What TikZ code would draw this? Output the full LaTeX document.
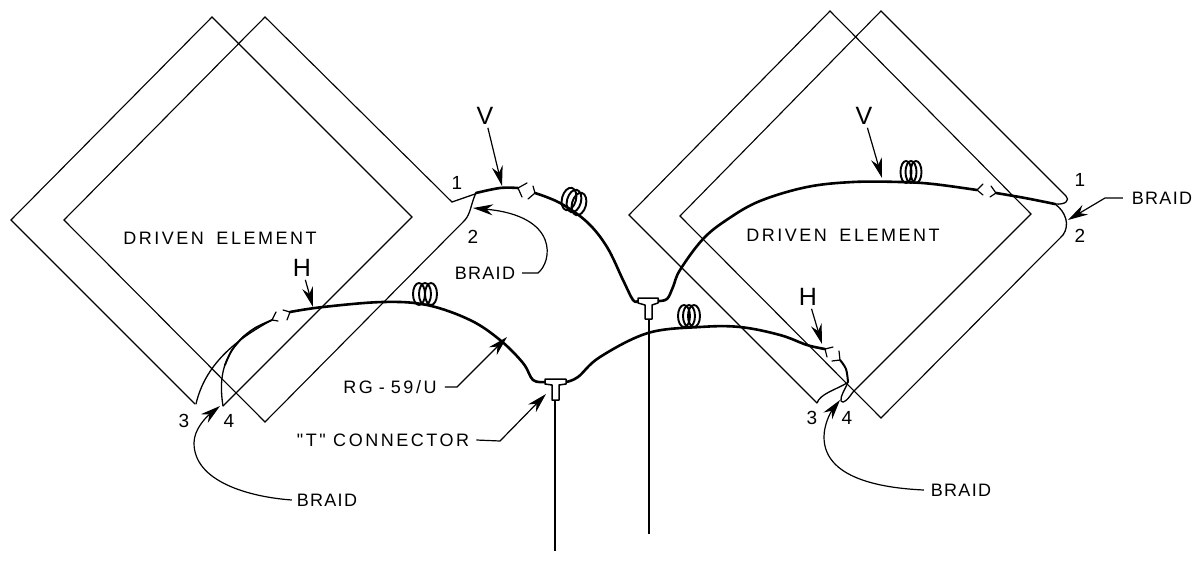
\documentclass[tikz,border=0pt]{standalone}
\usepackage{fontspec}
\setmainfont{Liberation Sans}
\newfontfamily\lblwide[LetterSpace=14]{Liberation Sans}
\newfontfamily\lblmid[LetterSpace=7]{Liberation Sans}
\usetikzlibrary{arrows.meta}
\tikzset{
  frame/.style={draw=black,line width=1.1pt,line join=miter},
  coax/.style={draw=black,line width=2.6pt,line cap=round,line join=round},
  thinwire/.style={draw=black,line width=1.3pt,line cap=round,line join=round},
  yfit/.style={draw=black,line width=1.2pt,line cap=round},
  lead/.style={draw=black,line width=1.2pt,-{Stealth[length=20pt,width=11pt]}},
  coil/.style={draw=black,line width=1.9pt},
  tee/.style={draw=black,line width=1.5pt,fill=white,line join=round},
  feed/.style={draw=black,line width=2.6pt},
  wide/.style={inner sep=1pt,font=\lblwide\fontsize{18}{20}\selectfont},
  mid/.style={inner sep=1pt,font=\lblmid\fontsize{18}{20}\selectfont},
  num/.style={inner sep=1pt,font=\fontsize{19}{21}\selectfont},
  big/.style={inner sep=3pt,font=\fontsize{25}{27}\selectfont}
}
\begin{document}
\begin{tikzpicture}[x=1pt,y=-1pt]
\path[use as bounding box,fill=white] (0,0) rectangle (1195,584);

% left driven element
\draw[frame] (195,404) -- (11,220) -- (212,17) -- (412,217) -- (223,406);
\draw[frame] (465,220) -- (265,422) -- (64,220) -- (265,17) -- (452,202);
% right driven element
\draw[frame] (817,403) -- (629,215) -- (830,11) -- (1031,214) -- (853,392);
\draw[frame] (1063,235) -- (881,418) -- (680,216) -- (881,11) -- (1066,196);

% terminals V left
\draw[thinwire] (452,202) -- (475,194);
\draw[thinwire] (465,220) .. controls (471,213) and (471,203) .. (476,193);
% terminals V right
\draw[thinwire] (1066,196) .. controls (1070,200) and (1066,205) .. (1055,204);
\draw[thinwire] (1055,204) .. controls (1066,212) and (1070,225) .. (1063,235);
% terminals H right
\draw[thinwire] (847,383) .. controls (835,390) and (820,394) .. (817,403);
\draw[thinwire] (853,392) .. controls (849,398) and (843,405) .. (841,401) .. controls (840,396) and (845,390) .. (848,382);
% terminals H left
\draw[thinwire] (196,404) .. controls (205,365) and (235,340) .. (272,320);
\draw[thinwire] (223,406) .. controls (218,375) and (225,355) .. (243,337);

% coax V left
\draw[coax] plot[smooth,tension=0.6] coordinates {(476,193) (500,188) (518,188)};
\draw[yfit] (527,183) -- (518,188) -- (522,197);
\draw[yfit] (533,186) -- (535,193) -- (528,199);
\draw[coax] plot[smooth,tension=0.6] coordinates {(535,193) (560,203) (587,222) (607,247) (623,280) (633,300) (638,301)};
% coax V right
\draw[coax] plot[smooth,tension=0.6] coordinates {(658,301) (667,299) (673,287) (680,270) (703,239) (728,219) (760,201) (807,187) (853,182) (900,182) (933,184) (977,190)};
\draw[yfit] (983,184) -- (977,190) -- (983,195);
\draw[yfit] (991,186) -- (996,193) -- (990,197);
\draw[coax] plot[smooth,tension=0.6] coordinates {(996,193) (1025,198) (1055,204)};
% coax H left
\draw[coax] plot[smooth,tension=0.6] coordinates {(290,312) (323,307) (383,302) (427,305) (470,320) (500,340) (523,363) (533,380) (545,382)};
\draw[yfit] (283,310) -- (290,312) -- (287,320);
\draw[yfit] (276,312) -- (272,320) -- (278,321);
\draw[line width=1.8pt,line cap=round] plot[smooth,tension=0.6] coordinates {(272,320) (255,328) (243,337)};
\draw[line width=1.8pt,line cap=round] plot[smooth,tension=0.6] coordinates {(243,337) (232,350) (225,365)};
% coax H right
\draw[coax] plot[smooth,tension=0.6] coordinates {(566,382) (578,377) (600,357) (648,333) (700,327) (740,327) (780,335) (807,345) (825,349)};
\draw[yfit] (833,347) -- (825,349) -- (827,357);
\draw[yfit] (839,351) -- (840,360) -- (832,361);
\draw[line width=2pt,line cap=round] plot[smooth,tension=0.6] coordinates {(840,360) (846,369) (848,382)};

% tee connectors and feed lines
\draw[feed] (555,401) -- (555,551);
\draw[feed] (649,320) -- (649,534);
\draw[tee] (545,379) -- (566,379) -- (566,384) -- (559,385) -- (559,400) -- (552,400) -- (552,385) -- (545,384) -- cycle;
\draw[tee] (638,298) -- (658,298) -- (658,303) -- (652,305) -- (652,319) -- (645,319) -- (645,305) -- (638,303) -- cycle;

% coils
\foreach \cx/\cy in {569/199,574/201,579/204}
  \draw[coil] (\cx,\cy) ellipse [x radius=7pt,y radius=11.5pt,rotate=-15];
\foreach \cx in {906,911,916}
  \draw[coil] (\cx,172) ellipse [x radius=5.5pt,y radius=11pt];
\foreach \cx in {684,689,694}
  \draw[coil] (\cx,316) ellipse [x radius=6pt,y radius=11pt];
\foreach \cx in {419,425,431}
  \draw[coil] (\cx,294) ellipse [x radius=6pt,y radius=11pt];

% labels
\node[wide] (de1) at (220,238) {DRIVEN\hspace{5pt} ELEMENT};
\node[wide] (de2) at (843,235) {DRIVEN\hspace{5pt} ELEMENT};
\node[big] (v1) at (485,116) {V};
\node[big] (v2) at (864,116) {V};
\node[big] (h1) at (302,268) {H};
\node[big] (h2) at (808,297) {H};
\node[num] (n1a) at (457,183) {1};
\node[num] (n2a) at (473,237) {2};
\node[num] (n1b) at (1080,180) {1};
\node[num] (n2b) at (1080,236) {2};
\node[num] (n3a) at (184,421) {3};
\node[num] (n4a) at (229,421) {4};
\node[num] (n3b) at (812,418) {3};
\node[num] (n4b) at (847,418) {4};
\node[mid] (br1) at (485,273) {BRAID};
\node[mid] (br2) at (327,500) {BRAID};
\node[mid] (br3) at (961,490) {BRAID};
\node[mid] (br4) at (1162,198) {BRAID};
\node[wide] (rg) at (390,387) {RG\hspace{6pt}-\hspace{6pt}59/U};
\node[wide] (tc) at (383,440) {"T" CONNECTOR};

% leader points
\coordinate (tv1) at (502,186);
\coordinate (tv2) at (882,178);
\coordinate (th1) at (313,307);
\coordinate (th2) at (822,344);
\coordinate (tb1) at (473,208);
\coordinate (tb2) at (220,406);
\coordinate (tb3) at (840,400);
\coordinate (tb4) at (1068,220);
\coordinate (trg) at (507,337);
\coordinate (ttc) at (546,394);
\coordinate (kb1) at (538,273);
\coordinate (kb4) at (1105,198);
\coordinate (krg) at (457,387);
\coordinate (ktc) at (500,441);

\draw[lead] (v1) -- (tv1);
\draw[lead] (v2) -- (tv2);
\draw[lead] (h1) -- (th1);
\draw[lead] (h2) -- (th2);
\draw[lead] ([xshift=6pt]br1.east) -- (kb1) .. controls (552,262) and (560,216) .. (tb1);
\draw[lead] ([xshift=-4pt]br2.west) .. controls (250,497) and (194,482) .. (194,443) .. controls (194,430) and (205,418) .. (tb2);
\draw[lead] ([xshift=-6pt]br3.west) .. controls (880,488) and (824,478) .. (824,437) .. controls (824,425) and (830,413) .. (tb3);
\draw[lead] ([xshift=-8pt]br4.west) -- (kb4) -- (tb4);
\draw[lead] ([xshift=7pt]rg.east) -- (krg) -- (trg);
\draw[lead] ([xshift=6pt]tc.east) -- (ktc) -- (ttc);
\end{tikzpicture}
\end{document}
